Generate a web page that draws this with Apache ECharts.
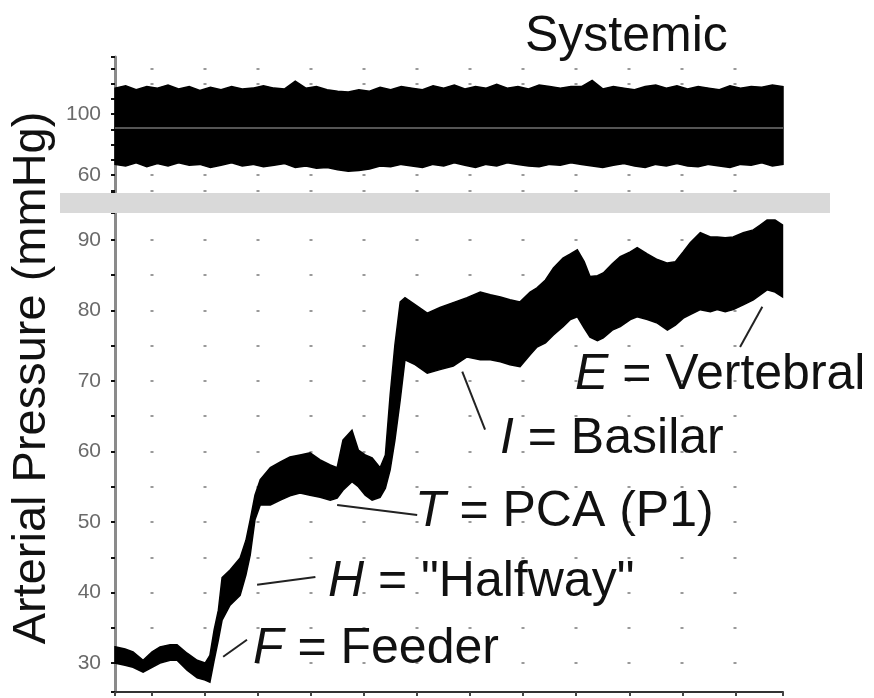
<!DOCTYPE html>
<html>
<head>
<meta charset="utf-8">
<title>Arterial Pressure</title>
<script src="https://cdn.jsdelivr.net/npm/echarts@6/dist/echarts.min.js"></script>
<style>
  html, body { margin: 0; padding: 0; background: #fff; }
  #chart { width: 874px; height: 698px; }
</style>
</head>
<body>
<div id="chart"></div>
<script>
// systemic trace (top panel), envelope of the pulsatile signal
const sysX = [0.3, 0.5, 0.7, 0.9, 1.1, 1.3, 1.5, 1.7, 1.9, 2.1,
  2.3, 2.5, 2.7, 2.9, 3.1, 3.3, 3.5, 3.7, 3.9, 4.1,
  4.3, 4.5, 4.7, 4.9, 5.1, 5.3, 5.5, 5.7, 5.9, 6.1,
  6.3, 6.5, 6.7, 6.9, 7.1, 7.3, 7.5, 7.7, 7.9, 8.1,
  8.3, 8.5, 8.7, 8.9, 9.1, 9.3, 9.5, 9.7, 9.9, 10.1,
  10.3, 10.5, 10.7, 10.9, 11.1, 11.3, 11.5, 11.7, 11.9, 12.1,
  12.3, 12.5, 12.7, 12.9];
const sysHigh = [117, 118.5, 116, 118, 117, 119, 116.5, 118, 115.5, 117.5,
  116, 118, 116.5, 117, 118.5, 117, 116.5, 121.5, 117, 118,
  116, 115, 114.5, 116, 115, 117.5, 116, 118, 117, 116,
  118.5, 117, 119, 116.5, 118, 117, 119.5, 117, 118, 116.5,
  119, 118, 117, 118, 118, 122, 116.5, 118, 117, 116,
  118, 119, 117, 118.5, 116.5, 118, 117, 116, 118.5, 117,
  118, 117.5, 119, 118];
const sysLow = [67, 66, 68, 65.5, 67.5, 66, 68, 66.5, 67, 65,
  66.5, 68, 66, 67, 65.5, 66.5, 67.5, 65, 66, 64.5,
  65, 63.5, 62.5, 63, 64, 66, 65.5, 67, 66, 65,
  67, 66, 68, 66.5, 65, 67, 66, 68, 67, 66,
  65.5, 67, 66.5, 68, 67, 66, 65, 66.5, 67.5, 66,
  65, 67, 66, 67.5, 66, 65.5, 67, 66, 65, 67,
  66.5, 68, 66, 67];
const sysMean = 91;

// local trace (bottom panel)
const artX = [0.30, 0.49, 0.64, 0.83, 1.00, 1.15, 1.34, 1.47, 1.66, 1.85,
  2.00, 2.09, 2.17, 2.25, 2.32, 2.47, 2.66, 2.77, 2.85, 2.94,
  3.04, 3.23, 3.42, 3.60, 3.79, 3.98, 4.17, 4.36, 4.49, 4.60,
  4.77, 4.89, 5.02, 5.15, 5.30, 5.40, 5.49, 5.58, 5.68, 5.77,
  5.96, 6.19, 6.43, 6.68, 6.94, 7.19, 7.38, 7.57, 7.75, 7.94,
  8.13, 8.26, 8.42, 8.57, 8.75, 8.89, 9.02, 9.15, 9.26, 9.40,
  9.51, 9.68, 9.83, 10.02, 10.15, 10.34, 10.53, 10.72, 10.87, 11.02,
  11.15, 11.34, 11.53, 11.66, 11.81, 11.96, 12.15, 12.34, 12.47, 12.60,
  12.75, 12.89];
const artHigh = [32.3, 32.0, 31.6, 30.4, 31.6, 32.3, 32.6, 32.6, 31.4, 30.4,
  30.0, 31.1, 34.7, 37.5, 42.1, 43.2, 44.9, 47.4, 50.3, 53.8,
  56.0, 57.7, 58.5, 59.2, 59.5, 59.8, 58.8, 58.1, 57.7, 61.6,
  63.0, 60.2, 59.5, 59.1, 57.7, 59.5, 68.0, 75.1, 81.2, 81.8,
  80.8, 79.6, 80.4, 81.1, 81.8, 82.6, 82.2, 81.9, 81.5, 81.2,
  82.6, 83.2, 84.3, 86.0, 87.4, 88.0, 88.6, 86.9, 84.8, 84.9,
  85.3, 86.6, 87.6, 88.3, 88.9, 88.0, 87.2, 86.7, 86.9, 88.3,
  89.6, 91.0, 90.4, 90.4, 90.3, 90.4, 91.0, 91.4, 92.1, 92.8,
  92.8, 92.1];
const artLow = [30.0, 29.7, 29.4, 28.7, 29.4, 30.0, 30.4, 30.4, 29.0, 27.9,
  27.6, 27.3, 30.4, 33.3, 36.1, 38.2, 39.6, 42.5, 45.3, 50.3,
  52.4, 52.4, 53.1, 53.7, 54.1, 53.8, 53.5, 53.1, 53.4, 54.5,
  55.7, 55.0, 53.8, 53.1, 53.5, 54.8, 57.4, 61.6, 67.3, 73.0,
  72.3, 71.1, 71.6, 72.1, 73.4, 73.0, 73.0, 72.7, 72.3, 72.0,
  73.7, 74.8, 75.4, 76.5, 77.7, 78.7, 79.1, 77.5, 76.2, 75.7,
  76.1, 77.2, 77.7, 78.7, 79.1, 78.7, 78.2, 77.2, 77.9, 78.9,
  79.4, 80.1, 79.8, 80.1, 79.8, 80.1, 80.8, 81.5, 82.2, 82.9,
  82.6, 81.9];

// leader lines for the labels, [x1, y1, x2, y2] in axis units
const leaders = [
  [2.34, 30.9, 2.79, 33.3],   // F
  [2.98, 41.1, 4.08, 42.2],   // H
  [4.49, 52.4, 6.00, 51.0],   // T
  [6.85, 71.3, 7.28, 63.1],   // I
  [12.09, 74.8, 12.51, 80.5]  // E
];
const labels = [
  { key: 'F', text: 'Feeder', x: 253, base: 667 },
  { key: 'H', text: '"Halfway"', x: 328, base: 600 },
  { key: 'T', text: 'PCA (P1)', x: 415, base: 530 },
  { key: 'I', text: 'Basilar', x: 500, base: 457 },
  { key: 'E', text: 'Vertebral', x: 575, base: 393 }
];

const FONT = '"Liberation Sans", Arial, sans-serif';

const chart = echarts.init(document.getElementById('chart'));

// filled envelope between low and high, drawn through the axis scales
function bandSeries(name, axis, xs, hi, lo) {
  return {
    name: name, type: 'custom', xAxisIndex: axis, yAxisIndex: axis,
    data: [[xs[0], lo[0]]],
    renderItem: function (params, api) {
      const top = xs.map((x, i) => api.coord([x, hi[i]]));
      const bottom = xs.map((x, i) => api.coord([x, lo[i]])).reverse();
      return {
        type: 'polygon',
        shape: { points: top.concat(bottom) },
        style: { fill: '#000', stroke: '#000', lineWidth: 1.5, lineJoin: 'miter' }
      };
    },
    z: 3
  };
}

const tickLabel = (keep) => ({
  color: '#6a6a6a', fontSize: 21, fontFamily: FONT, margin: 14,
  formatter: (v) => {
    const r = Math.round(v);
    return (Math.abs(v - r) < 1e-6 && keep(r)) ? String(r) : '';
  }
});
const dotLine = {
  show: true, showMinLine: false, showMaxLine: false,
  lineStyle: { color: '#9a9a9a', width: 2, type: [3, 50], dashOffset: 17.5 }
};
const yLine = { show: true, onZero: false, lineStyle: { color: '#8a8a8a', width: 3 } };
const yTick = { show: true, length: 4, lineStyle: { color: '#111', width: 2 } };

const option = {
  animation: false,
  grid: [
    { left: 115, right: 91, top: 57, height: 135 },
    { left: 115, right: 91, top: 213, bottom: 6 }
  ],
  xAxis: [
    { gridIndex: 0, type: 'value', min: 0.3, max: 12.9, show: false },
    {
      gridIndex: 1, type: 'value', min: 0.3, max: 12.9,
      splitNumber: 12, minInterval: 1, maxInterval: 1,
      axisLine: { onZero: false, lineStyle: { color: '#333', width: 2 } },
      axisTick: { length: 4, lineStyle: { color: '#444', width: 2 } },
      axisLabel: { show: false },
      splitLine: { show: false }
    }
  ],
  yAxis: [
    {
      gridIndex: 0, type: 'value', min: 48.9, max: 137.4,
      splitNumber: 9, minInterval: 10, maxInterval: 10,
      axisLine: yLine, axisTick: yTick,
      axisLabel: tickLabel(v => v === 60 || v === 100),
      splitLine: dotLine
    },
    {
      gridIndex: 1, type: 'value', min: 25.9, max: 93.8,
      splitNumber: 14, minInterval: 5, maxInterval: 5,
      axisLine: yLine, axisTick: yTick,
      axisLabel: tickLabel(v => v % 10 === 0),
      splitLine: dotLine
    }
  ],
  series: [
    bandSeries('systemic', 0, sysX, sysHigh, sysLow),
    {
      name: 'sysMean', type: 'line', xAxisIndex: 0, yAxisIndex: 0, data: [],
      markLine: {
        silent: true, symbol: ['none', 'none'], label: { show: false },
        lineStyle: { color: '#555', width: 2, type: 'solid' },
        data: [{ yAxis: sysMean }]
      },
      z: 5
    },
    bandSeries('local', 1, artX, artHigh, artLow),
    {
      name: 'leaders', type: 'line', xAxisIndex: 1, yAxisIndex: 1, data: [],
      markLine: {
        silent: true, symbol: ['none', 'none'], label: { show: false },
        lineStyle: { color: '#222', width: 2, type: 'solid' },
        data: leaders.map(l => [{ coord: [l[0], l[1]] }, { coord: [l[2], l[3]] }])
      }
    }
  ],
  graphic: [
    {
      type: 'rect', z: 10,
      shape: { x: 60, y: 193, width: 770, height: 20 },
      style: { fill: '#d9d9d9' }
    },
    {
      type: 'text', z: 10,
      style: {
        x: 525, y: 55 - 0.35 * 50, text: 'Systemic',
        font: '50px ' + FONT, fill: '#111', verticalAlign: 'middle'
      }
    },
    {
      type: 'text', z: 10, x: 32, y: 378, rotation: Math.PI / 2,
      style: {
        x: 0, y: 0, text: 'Arterial Pressure (mmHg)',
        font: '47px ' + FONT, fill: '#111', align: 'center', verticalAlign: 'middle'
      }
    }
  ].concat(labels.map(l => ({
    type: 'text', z: 10,
    style: {
      x: l.x, y: l.base - 0.35 * 50,
      text: '{i|' + l.key + '} = ' + l.text,
      font: '50px ' + FONT, fill: '#111', verticalAlign: 'middle',
      rich: { i: { fontStyle: 'italic', font: 'italic 50px ' + FONT, fill: '#111' } }
    }
  })))
};

chart.setOption(option);
</script>
</body>
</html>
